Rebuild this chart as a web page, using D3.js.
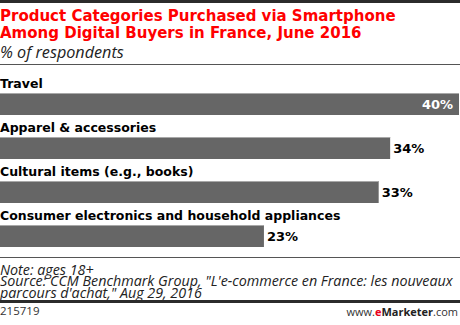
<!DOCTYPE html>
<html>
<head>
<meta charset="utf-8">
<script src="https://cdn.jsdelivr.net/npm/d3@7"></script>
<style>
  html, body { margin: 0; padding: 0; background: #fff; }
  svg { display: block; }
</style>
</head>
<body>
<svg id="chart" width="460" height="325"></svg>
<script>
// Share of respondents buying each product category via smartphone
const categories = [
  "Travel",
  "Apparel & accessories",
  "Cultural items (e.g., books)",
  "Consumer electronics and household appliances"
];
const values = [40, 34, 33, 23];
const valueLabels = ["40%", "34%", "33%", "23%"];

const titleLines = [
  "Product Categories Purchased via Smartphone",
  "Among Digital Buyers in France, June 2016"
];
const subtitle = "% of respondents";
const noteLines = [
  "Note: ages 18+",
  "Source: CCM Benchmark Group, \"L'e-commerce en France: les nouveaux",
  "parcours d'achat,\" Aug 29, 2016"
];
const chartId = "215719";

const W = 460, H = 325;
const svg = d3.select("#chart");

const boldFont = "'DejaVu Sans', Verdana, sans-serif";
const bodyFont = "'Open Sans', 'Liberation Sans', sans-serif";

// Top rule
svg.append("rect").attr("x", 0).attr("y", 0).attr("width", W).attr("height", 3).attr("fill", "#2b2b2b");

// Title
svg.append("g").selectAll("text").data(titleLines).join("text")
  .attr("x", 0).attr("y", (d, i) => 21 + i * 17)
  .attr("font-family", boldFont).attr("font-weight", "bold")
  .attr("font-size", 15).attr("fill", "#ff0000")
  .text(d => d);

svg.append("text").attr("x", 0).attr("y", 57.5)
  .attr("font-family", bodyFont).attr("font-style", "italic")
  .attr("font-size", 16.2).attr("fill", "#222")
  .text(subtitle);

svg.append("rect").attr("x", 0).attr("y", 64).attr("width", W).attr("height", 1).attr("fill", "#555");

// Bars
const x = d3.scaleLinear().domain([0, 40]).range([0, 459]);
const y = d3.scaleBand().domain(categories).range([93, 269]).paddingInner(0).paddingOuter(0);
const barH = 22;

const rows = svg.append("g").selectAll("g").data(categories).join("g")
  .attr("transform", d => `translate(0,${y(d)})`);

rows.append("text")
  .attr("x", 0).attr("y", -5)
  .attr("font-family", boldFont).attr("font-weight", "bold")
  .attr("font-size", 12.5).attr("fill", "#000")
  .text(d => d);

rows.append("rect")
  .attr("x", 0).attr("y", 0)
  .attr("width", (d, i) => x(values[i]))
  .attr("height", barH)
  .attr("fill", "#666666");

rows.append("rect")
  .attr("x", 0).attr("y", 0)
  .attr("width", (d, i) => x(values[i]))
  .attr("height", 1)
  .attr("fill", "#a8a8a8");

rows.append("text")
  .attr("x", (d, i) => i === 0 ? x(values[i]) - 6 : x(values[i]) + 3)
  .attr("y", 16)
  .attr("text-anchor", (d, i) => i === 0 ? "end" : "start")
  .attr("font-family", boldFont).attr("font-weight", "bold")
  .attr("font-size", 13)
  .attr("fill", (d, i) => i === 0 ? "#fff" : "#000")
  .text((d, i) => valueLabels[i]);

// Notes
svg.append("rect").attr("x", 0).attr("y", 257).attr("width", W).attr("height", 1).attr("fill", "#555");

svg.append("g").selectAll("text").data(noteLines).join("text")
  .attr("x", 0).attr("y", (d, i) => 274.5 + i * 11.7)
  .attr("font-family", bodyFont).attr("font-style", "italic")
  .attr("font-size", 14.3).attr("fill", "#222")
  .text(d => d);

svg.append("rect").attr("x", 0).attr("y", 300).attr("width", W).attr("height", 3).attr("fill", "#2b2b2b");

svg.append("text").attr("x", 0).attr("y", 315)
  .attr("font-family", bodyFont).attr("font-size", 11.5).attr("fill", "#333")
  .text(chartId);

const brand = svg.append("text").attr("x", 458).attr("y", 316)
  .attr("text-anchor", "end")
  .attr("font-family", bodyFont).attr("font-size", 11).attr("fill", "#333");
brand.append("tspan").text("www.");
brand.append("tspan").attr("font-weight", "bold").attr("fill", "#e8001c").text("e");
brand.append("tspan").attr("font-weight", "bold").attr("fill", "#222").text("Marketer");
brand.append("tspan").text(".com");
</script>
</body>
</html>
